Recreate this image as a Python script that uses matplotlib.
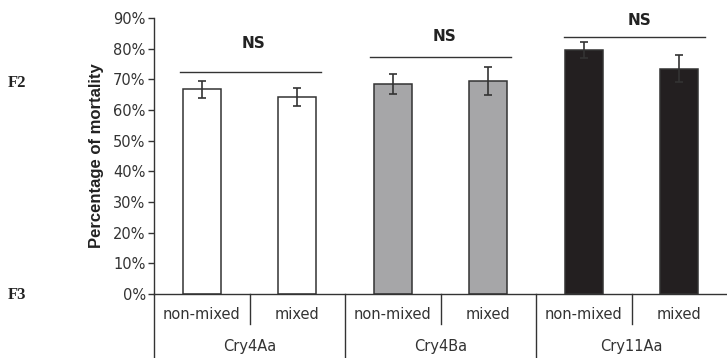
import matplotlib
matplotlib.use("Agg")
import matplotlib.pyplot as plt
import matplotlib.transforms as mtransforms

# ---- data ----
groups = ["Cry4Aa", "Cry4Ba", "Cry11Aa"]
conditions = ["non-mixed", "mixed"]
mortality = [66.7, 64.3, 68.4, 69.5, 79.5, 73.4]
errors = [2.7, 3.0, 3.2, 4.5, 2.7, 4.4]
group_colors = ["#ffffff", "#a6a6a8", "#231f20"]
yticks = [0, 10, 20, 30, 40, 50, 60, 70, 80, 90]
ytick_labels = [f"{v}%" for v in yticks]
ns_line_y = [72.5, 77.2, 83.9]
ns_text_y = [81.7, 83.9, 89.1]
ns_line_x = [(-0.23, 1.25), (1.76, 3.24), (3.79, 5.27)]
ns_text_x = [0.54, 2.54, 4.58]

edge = "#333333"
fig = plt.figure(figsize=(7.27, 3.58), dpi=100)
ax = fig.add_axes([154/727, 64/358, 573/727, 276/358])

xs = list(range(len(mortality)))
colors = [group_colors[i // 2] for i in xs]
ax.bar(xs, mortality, width=0.40, color=colors, edgecolor=edge, linewidth=1.1, zorder=2)
ax.errorbar(xs, mortality, yerr=errors, fmt="none", ecolor=edge, elinewidth=1.2,
            capsize=3, capthick=1.2, zorder=3)

ax.set_xlim(-0.5, 5.5)
ax.set_ylim(0, 90)
ax.set_yticks(yticks)
ax.set_yticklabels(ytick_labels, fontsize=10.5, color="#333333", family="DejaVu Sans")
ax.set_xticks([])
ax.tick_params(axis="y", direction="out", length=4, width=1, color=edge, pad=2)
for s in ["top", "right"]:
    ax.spines[s].set_visible(False)
for s in ["left", "bottom"]:
    ax.spines[s].set_color(edge)
    ax.spines[s].set_linewidth(1.0)

ax.set_ylabel("Percentage of mortality", fontsize=12, fontweight="bold",
              family="Liberation Sans", color="#222222")
ax.yaxis.set_label_coords(-0.087, 0.5)

# multi-level x axis labels
trans = mtransforms.blended_transform_factory(ax.transData, ax.transAxes)
for i, x in enumerate(xs):
    ax.text(x, -0.074, conditions[i % 2], transform=trans, ha="center", va="center",
            fontsize=10.5, color="#333333", family="DejaVu Sans")
for g, name in enumerate(groups):
    ax.text(2 * g + 0.5, -0.191, name, transform=trans, ha="center", va="center",
            fontsize=10.5, color="#333333", family="DejaVu Sans")
    # inner separator
    ax.plot([2 * g + 0.5, 2 * g + 0.5], [0, -0.109], transform=trans, color=edge,
            lw=1.0, clip_on=False)
    # group separator
    ax.plot([2 * g - 0.5, 2 * g - 0.5], [0, -0.24], transform=trans, color=edge,
            lw=1.0, clip_on=False)

# NS annotations
for (x0, x1), ly, tx, ty in zip(ns_line_x, ns_line_y, ns_text_x, ns_text_y):
    ax.plot([x0, x1], [ly, ly], color=edge, lw=1.0, clip_on=False, zorder=3)
    ax.text(tx, ty, "NS", ha="center", va="center", fontsize=11, fontweight="bold",
            color="#222222", family="DejaVu Sans")

fig.text(8/727, 1 - 83/358, "F2", ha="left", va="center", fontsize=12,
         fontweight="bold", family="Liberation Serif", color="#222222")
fig.text(8/727, 1 - 295/358, "F3", ha="left", va="center", fontsize=12,
         fontweight="bold", family="Liberation Serif", color="#222222")

fig.savefig("out.png", dpi=100)
